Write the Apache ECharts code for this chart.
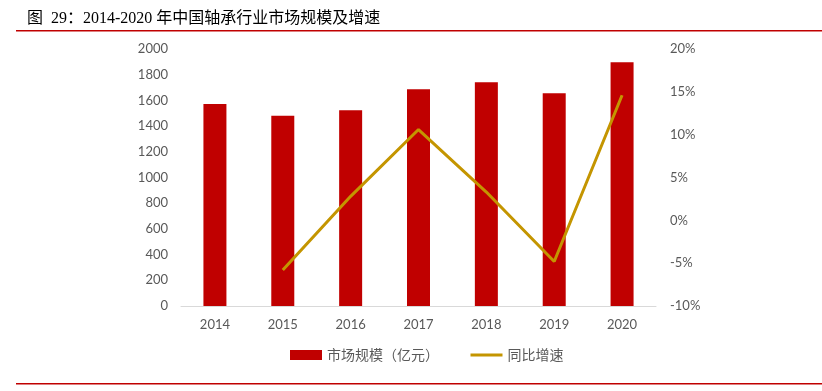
<!DOCTYPE html>
<html>
<head>
<meta charset="utf-8">
<script src="https://cdn.jsdelivr.net/npm/echarts@6/dist/echarts.min.js"></script>
<style>
  html, body { margin: 0; padding: 0; background: #fff; }
  #chart { width: 822px; height: 391px; }
</style>
</head>
<body>
<div id="chart"></div>
<script>
// data
const years = ['2014', '2015', '2016', '2017', '2018', '2019', '2020'];
const marketSize = [1572, 1481, 1523, 1686, 1741, 1656, 1897];
const growth = [null, -5.8, 2.8, 10.6, 3.3, -4.8, 14.6];

const labelColor = '#595959';

const myChart = echarts.init(document.getElementById('chart'));

const option = {
  animation: false,
  title: {
    text: '图  29：2014-2020 年中国轴承行业市场规模及增速',
    left: 22,
    top: 6,
    textStyle: {
      fontSize: 16,
      fontWeight: 'normal',
      color: '#000',
      fontFamily: '"Liberation Serif", "Noto Sans CJK SC", serif'
    }
  },
  graphic: [
    { type: 'rect', shape: { x: 16, y: 30, width: 806, height: 1.5 }, style: { fill: '#C00000' } },
    { type: 'rect', shape: { x: 16, y: 383, width: 806, height: 1.5 }, style: { fill: '#C00000' } }
  ],
  legend: {
    bottom: 24,
    left: 285,
    itemGap: 30,
    itemWidth: 32,
    itemHeight: 10,
    textStyle: { color: labelColor, fontSize: 14, fontFamily: '"Noto Sans CJK SC", sans-serif' },
    data: [
      { name: '市场规模（亿元）', icon: 'rect' },
      { name: '同比增速', itemStyle: { opacity: 0 }, lineStyle: { width: 3 } }
    ]
  },
  grid: { left: 181, right: 166, top: 49, bottom: 85 },
  xAxis: {
    type: 'category',
    data: years,
    axisLine: { lineStyle: { color: '#d9d9d9' } },
    axisTick: { show: false },
    axisLabel: { color: labelColor, fontSize: 13, margin: 12, fontFamily: 'Lato, sans-serif' }
  },
  yAxis: [
    {
      type: 'value',
      min: 0,
      max: 2000,
      interval: 200,
      splitLine: { show: false },
      axisLine: { show: false },
      axisTick: { show: false },
      axisLabel: { color: labelColor, fontSize: 13, margin: 13, formatter: v => String(v), fontFamily: 'Lato, sans-serif' }
    },
    {
      type: 'value',
      min: -10,
      max: 20,
      interval: 5,
      splitLine: { show: false },
      axisLine: { show: false },
      axisTick: { show: false },
      axisLabel: { color: labelColor, fontSize: 13, margin: 14, formatter: '{value}%', fontFamily: 'Lato, sans-serif' }
    }
  ],
  series: [
    {
      name: '市场规模（亿元）',
      type: 'bar',
      data: marketSize,
      barWidth: 23,
      itemStyle: { color: '#C00000' }
    },
    {
      name: '同比增速',
      type: 'line',
      yAxisIndex: 1,
      data: growth,
      symbol: 'none',
      lineStyle: { color: '#C49500', width: 3 },
      itemStyle: { color: '#C49500' }
    }
  ]
};

myChart.setOption(option);
</script>
</body>
</html>
